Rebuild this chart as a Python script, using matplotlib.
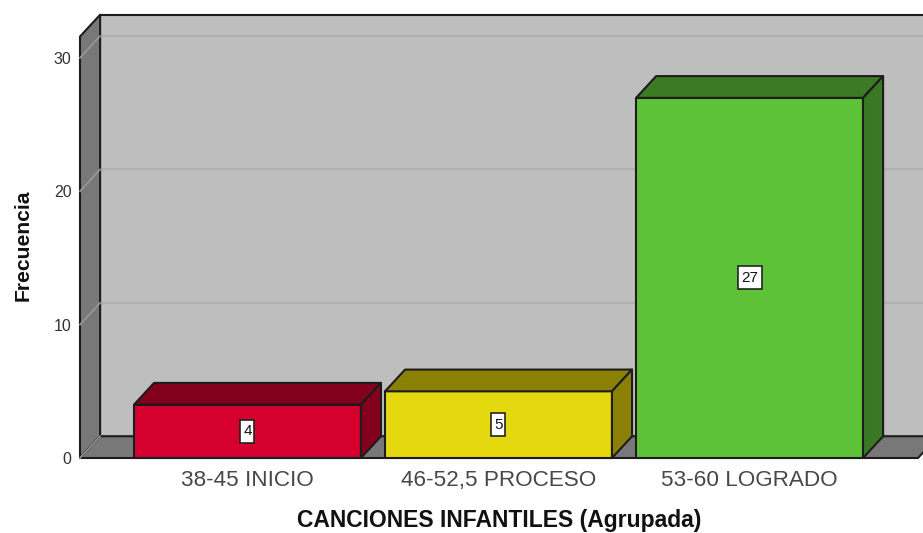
import matplotlib
matplotlib.use("Agg")
import matplotlib.pyplot as plt
from matplotlib.patches import Polygon, Rectangle

plt.rcParams["font.family"] = ["Liberation Sans", "DejaVu Sans"]

categories = ["38-45 INICIO", "46-52,5 PROCESO", "53-60 LOGRADO"]
counts = [4, 5, 27]
front_colors = ["#D6002F", "#E4D90F", "#5EC238"]
top_colors = ["#82001C", "#8A8006", "#3D7A24"]
side_colors = ["#82001C", "#8A8006", "#3A7823"]
y_ticks = [0, 10, 20, 30]

W, H = 923, 533
bar_w = 0.904
# 3d depth, in data units
dx = 0.08
dy = 1.63
x_lo, x_hi = -0.667, 2.671
y_hi = 31.6

fig = plt.figure(figsize=(W / 100, H / 100), dpi=100)
left, right = 80, 918
bottom, top = 458, 36.5
ax = fig.add_axes([left / W, 1 - bottom / H, (right - left) / W, (bottom - top) / H])
ax.set_xlim(x_lo, x_hi)
ax.set_ylim(0, y_hi)
for s in ax.spines.values():
    s.set_visible(False)

# size of one pixel in data units, for the value boxes
px_x = (x_hi - x_lo) / (right - left)
px_y = y_hi / (bottom - top)

def poly(pts, fc, ec="#1C1C1C", lw=1.5, z=2):
    ax.add_patch(Polygon(pts, closed=True, facecolor=fc, edgecolor=ec, linewidth=lw,
                         zorder=z, clip_on=False, joinstyle="round"))

wall = "#BEBEBE"
dark = "#787878"
# back wall, left wall, floor
poly([(x_lo + dx, dy), (x_hi + dx, dy), (x_hi + dx, y_hi + dy), (x_lo + dx, y_hi + dy)], wall, z=1)
poly([(x_lo, 0), (x_lo + dx, dy), (x_lo + dx, y_hi + dy), (x_lo, y_hi)], dark, z=1.2)
poly([(x_lo, 0), (x_hi, 0), (x_hi + dx, dy), (x_lo + dx, dy)], dark, z=1.2)

# gridlines on the walls
for t in y_ticks:
    ax.plot([x_lo + dx, x_hi + dx], [t + dy, t + dy], color="#B0B0B0", lw=1.5, zorder=1.1, clip_on=False)
    ax.plot([x_lo, x_lo + dx], [t, t + dy], color="#999999", lw=1.2, zorder=1.3, clip_on=False)

# bars
for i, c in enumerate(counts):
    x0 = i - bar_w / 2
    x1 = i + bar_w / 2
    poly([(x0, 0), (x1, 0), (x1, c), (x0, c)], front_colors[i], z=3)
    poly([(x0, c), (x1, c), (x1 + dx, c + dy), (x0 + dx, c + dy)], top_colors[i], z=3)
    poly([(x1, 0), (x1 + dx, dy), (x1 + dx, c + dy), (x1, c)], side_colors[i], z=3)
    box_w = (4 + 10 * len(str(c))) * px_x
    box_h = 23 * px_y
    ax.add_patch(Rectangle((i - box_w / 2, c / 2 - box_h / 2), box_w, box_h, facecolor="white",
                           edgecolor="#222222", linewidth=1.2, zorder=4))
    ax.text(i, c / 2, str(c), ha="center", va="center", fontsize=11, color="#111111", zorder=5)

ax.set_xticks(range(len(categories)))
ax.set_xticklabels(categories, fontsize=16.2, color="#484848", va="baseline")
ax.set_yticks(y_ticks)
ax.set_yticklabels([str(t) for t in y_ticks], fontsize=11.5, color="#333333")
ax.tick_params(axis="x", length=0, pad=20)
ax.tick_params(axis="y", length=0, pad=6)
ax.set_xlim(x_lo, x_hi)

fig.text(499 / W, 1 - 521 / H, "CANCIONES INFANTILES (Agrupada)", ha="center", va="center",
         fontsize=16.5, fontweight="bold", color="#111111")
fig.text(23 / W, 1 - 245 / H, "Frecuencia", ha="center", va="center", rotation=90,
         fontsize=15.2, fontweight="bold", color="#111111")

fig.savefig("out.png", dpi=100)
